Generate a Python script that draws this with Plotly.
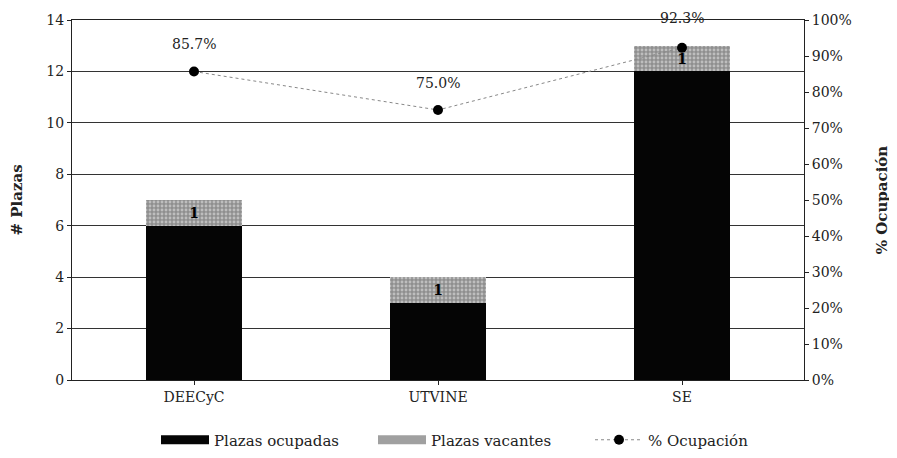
import plotly.graph_objects as go

categories = ["DEECyC", "UTVINE", "SE"]
ocupadas = [6, 3, 12]
vacantes = [1, 1, 1]
ocupacion = [0.857, 0.750, 0.923]
ocup_labels = ["85.7%", "75.0%", "92.3%"]

font_fam = "DejaVu Serif, Liberation Serif, serif"

fig = go.Figure()
fig.add_trace(go.Bar(
    x=categories, y=ocupadas, name="Plazas ocupadas", showlegend=False,
    marker=dict(color="#050505", line=dict(width=0)), width=0.39,
))
fig.add_trace(go.Bar(
    x=categories, y=vacantes, name="Plazas vacantes", showlegend=False,
    marker=dict(color="#a9a9a9", line=dict(width=0),
                pattern=dict(shape=".", fgcolor="#eeeeee", bgcolor="#8f8f8f", size=4, solidity=0.4)),
    width=0.39, texttemplate="<b>%{y}</b>", textposition="inside",
    insidetextanchor="middle", textfont=dict(color="black", size=14, family=font_fam),
))
# legend-only swatches (wide rectangles like the reference)
fig.add_trace(go.Scatter(x=[None], y=[None], mode="lines", name="Plazas ocupadas",
                         line=dict(color="#050505", width=9)))
fig.add_trace(go.Scatter(x=[None], y=[None], mode="lines", name="Plazas vacantes",
                         line=dict(color="#a0a0a0", width=9)))
fig.add_trace(go.Scatter(
    x=categories, y=ocupacion, name="% Ocupación", yaxis="y2",
    mode="lines+markers",
    line=dict(color="#888888", width=1, dash="dot"),
    marker=dict(color="black", size=10),
))

label_shift = [27, 27, 30]
for c, v, t, s in zip(categories, ocupacion, ocup_labels, label_shift):
    fig.add_annotation(x=c, y=v, yref="y2", text=t, showarrow=False, yshift=s,
                       font=dict(size=14, color="#222", family=font_fam))

fig.update_layout(
    width=897, height=458, barmode="stack",
    plot_bgcolor="white", paper_bgcolor="white",
    margin=dict(l=64, r=101, t=12, b=86),
    font=dict(family=font_fam, size=14, color="#222"),
    showlegend=True,
    legend=dict(orientation="h", x=148 / 897, xanchor="left", y=26 / 458, yanchor="middle",
                yref="container", xref="container",
                font=dict(size=15), itemwidth=48, entrywidth=154, traceorder="normal"),
    xaxis=dict(showline=True, mirror=True, linecolor="#222", linewidth=1, ticks="outside",
               tickcolor="#222", ticklen=4, tickfont=dict(size=14)),
    yaxis=dict(range=[0, 14], dtick=2, showline=True, linecolor="#222", linewidth=1,
               ticks="outside", tickcolor="#222", ticklen=4, automargin=False,
               showgrid=True, gridcolor="#333", gridwidth=1,
               title=dict(text="<b># Plazas</b>", font=dict(size=15), standoff=30),
               zeroline=False),
    yaxis2=dict(range=[0, 1], dtick=0.1, tickformat=".0%", overlaying="y", side="right",
                showline=True, linecolor="#222", linewidth=1, ticks="outside",
                tickcolor="#222", ticklen=4, showgrid=False, zeroline=False, automargin=False,
                title=dict(text="<b>% Ocupación</b>", font=dict(size=15), standoff=25)),
)

fig.write_html("out.html")
